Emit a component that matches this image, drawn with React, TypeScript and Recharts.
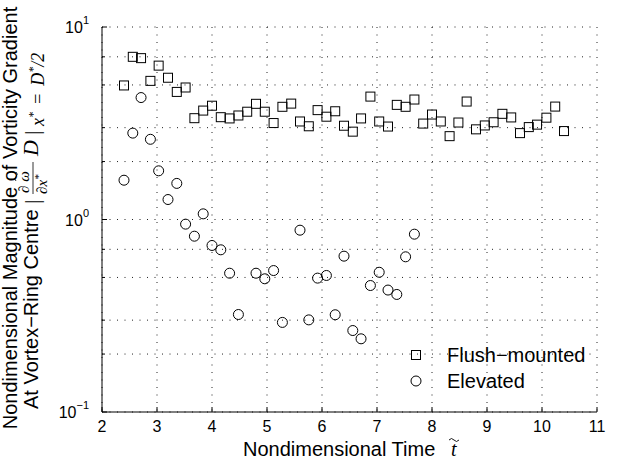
import React from "react";
import {
  ScatterChart, Scatter, XAxis, YAxis, CartesianGrid, Legend, Label,
} from "recharts";

const SANS = "Liberation Sans, Arial, Helvetica, sans-serif";
const SERIF = "Liberation Serif, DejaVu Serif, serif";

// nondimensional time (x) and gradient magnitude (y)
const flushT = [
  2.40, 2.56, 2.71, 2.88, 3.03, 3.20, 3.36, 3.52, 3.68, 3.84, 4.00, 4.16, 4.32,
  4.48, 4.64, 4.80, 4.96, 5.12, 5.28, 5.44, 5.60, 5.76, 5.92, 6.08, 6.24, 6.40,
  6.56, 6.71, 6.88, 7.04, 7.20, 7.36, 7.52, 7.68, 7.84, 8.00, 8.16, 8.32, 8.48,
  8.63, 8.80, 8.96, 9.12, 9.28, 9.44, 9.60, 9.76, 9.91, 10.08, 10.24, 10.40,
];
const flushG = [
  4.97, 7.0, 6.89, 5.25, 6.3, 5.45, 4.6, 4.85, 3.36, 3.68, 3.9, 3.40, 3.35,
  3.47, 3.63, 3.99, 3.63, 3.17, 3.85, 4.0, 3.23, 3.05, 3.70, 3.42, 3.65, 3.07,
  2.86, 3.35, 4.35, 3.23, 3.04, 3.94, 3.85, 4.2, 3.15, 3.51, 3.23, 2.71, 3.19,
  4.1, 2.94, 3.08, 3.20, 3.54, 3.39, 2.81, 3.02, 3.11, 3.38, 3.86, 2.88,
];
const elevT = [
  2.40, 2.56, 2.71, 2.88, 3.03, 3.20, 3.36, 3.52, 3.68, 3.84, 4.00, 4.16, 4.32,
  4.48, 4.80, 4.96, 5.12, 5.28, 5.60, 5.76, 5.92, 6.08, 6.24, 6.40, 6.56, 6.71,
  6.88, 7.04, 7.20, 7.36, 7.52, 7.68,
];
const elevG = [
  1.60, 2.81, 4.3, 2.61, 1.79, 1.27, 1.54, 0.946, 0.819, 1.07, 0.733, 0.696,
  0.526, 0.321, 0.526, 0.492, 0.543, 0.292, 0.88, 0.301, 0.496, 0.512, 0.320,
  0.645, 0.265, 0.240, 0.454, 0.532, 0.430, 0.408, 0.640, 0.839,
];

const xTicks = [2, 3, 4, 5, 6, 7, 8, 9, 10, 11];
const yTicks = [
  0.1, 0.2, 0.3, 0.4, 0.5, 0.6, 0.7, 0.8, 0.9,
  1, 2, 3, 4, 5, 6, 7, 8, 9, 10,
];
const decades = [0.1, 1, 10];
const seriesNames = ["Flush\u2212mounted", "Elevated"];

const flushData = flushT.map((t, i) => ({ t, g: flushG[i] }));
const elevData = elevT.map((t, i) => ({ t, g: elevG[i] }));

const txt = (size: number, family = SANS, italic = false) => ({
  fontSize: size, fontFamily: family, fontStyle: italic ? "italic" : "normal", fill: "#000",
});

const SquareDot = (props: any) => {
  const { cx, cy } = props;
  if (cx == null || cy == null) return null;
  return <rect x={cx - 4.5} y={cy - 4.5} width={9} height={9} fill="none" stroke="#000" strokeWidth={1} />;
};

const CircleDot = (props: any) => {
  const { cx, cy } = props;
  if (cx == null || cy == null) return null;
  return <circle cx={cx} cy={cy} r={5} fill="none" stroke="#000" strokeWidth={1} />;
};

const BottomTick = (props: any) => {
  const { x, y, payload } = props;
  return (
    <g>
      <line x1={x} y1={y} x2={x} y2={y - 5} stroke="#000" />
      <text x={x} y={y + 20} textAnchor="middle" style={txt(16)}>
        {payload.value}
      </text>
    </g>
  );
};

const TopTick = (props: any) => {
  const { x, y } = props;
  return <line x1={x} y1={y} x2={x} y2={y + 5} stroke="#000" />;
};

const LeftTick = (props: any) => {
  const { x, y, payload } = props;
  const v = payload.value;
  const major = decades.includes(v);
  const exp = Math.round(Math.log10(v));
  return (
    <g>
      <line x1={x} y1={y} x2={x + (major ? 5 : 3)} y2={y} stroke="#000" />
      {major && (
        <text x={x - 13} y={y + 6} textAnchor="end" style={txt(16)}>
          10
          <tspan dy={-9} style={{ fontSize: 11 }}>{exp < 0 ? "\u2212" + -exp : exp}</tspan>
        </text>
      )}
    </g>
  );
};

const RightTick = (props: any) => {
  const { x, y, payload } = props;
  const major = decades.includes(payload.value);
  return <line x1={x} y1={y} x2={x - (major ? 5 : 3)} y2={y} stroke="#000" />;
};

const XTitle = () => (
  <g>
    <text x={243} y={456} style={txt(20)}>Nondimensional Time</text>
    <text x={451} y={456} style={txt(20, SERIF, true)}>t</text>
    <path d="M449,440 q2.5,-3 5,0 t5,0" fill="none" stroke="#000" strokeWidth={0.9} />
  </g>
);

const YTitle = () => (
  <g>
    <g transform="translate(17,218) rotate(-90)">
      <text x={0} y={0} textAnchor="middle" style={txt(20)}>
        Nondimensional Magnitude of Vorticity Gradient
      </text>
    </g>
    <g transform="translate(38,409) rotate(-90)">
      <text x={0} y={0} style={txt(20)}>At Vortex{"\u2212"}Ring Centre</text>
      <text x={205} y={1} style={txt(22, SERIF)}>|</text>
      <text x={216} y={-9} style={txt(15, SERIF, true)}>{"\u2202 \u03C9"}</text>
      <path d="M228,-22 q2,-2.5 4.5,0 t4.5,0" fill="none" stroke="#000" strokeWidth={0.8} />
      <line x1={215} y1={-5} x2={247} y2={-5} stroke="#000" strokeWidth={0.8} />
      <text x={215} y={9} style={txt(15, SERIF, true)}>
        {"\u2202x"}
        <tspan dy={-5} style={{ fontSize: 11 }}>*</tspan>
      </text>
      <text x={253} y={0} style={txt(22, SERIF, true)}>D</text>
      <text x={274} y={1} style={txt(22, SERIF)}>|</text>
      <text x={283} y={6} style={txt(18, SERIF, true)}>
        x<tspan dy={-7} style={{ fontSize: 12 }}>*</tspan>
        <tspan dy={7} dx={7}>=</tspan>
        <tspan dx={7}>D</tspan>
        <tspan dy={-7} style={{ fontSize: 12 }}>*</tspan>
        <tspan dy={7}>/2</tspan>
      </text>
    </g>
  </g>
);

const LegendBox = () => (
  <div style={{ fontFamily: SANS, fontSize: 20, color: "#000" }}>
    {seriesNames.map((name, i) => (
      <div key={name} style={{ display: "flex", alignItems: "center", height: 26 }}>
        <svg width={12} height={12} style={{ display: "block" }}>
          {i === 0
            ? <rect x={1.5} y={1.5} width={9} height={9} fill="none" stroke="#000" />
            : <circle cx={6} cy={6} r={5} fill="none" stroke="#000" />}
        </svg>
        <span style={{ marginLeft: 25, lineHeight: "26px" }}>{name}</span>
      </div>
    ))}
  </div>
);

export default function App() {
  return (
    <div style={{ position: "absolute", left: 0, top: 0, width: 619, height: 462, background: "#fff" }}>
      <ScatterChart width={619} height={462} margin={{ top: 27, right: 22, bottom: 0, left: 0 }}>
        <CartesianGrid
          xAxisId="b" yAxisId="l"
          stroke="#222" strokeDasharray="1 6.5" strokeWidth={1}
        />
        <XAxis
          xAxisId="b" dataKey="t" type="number" domain={[2, 11]} ticks={xTicks}
          allowDataOverflow height={50} tickSize={0} tickMargin={0}
          tickLine={false} axisLine={{ stroke: "#000" }} tick={<BottomTick />}
        >
          <Label content={<XTitle />} />
        </XAxis>
        <XAxis
          xAxisId="t" orientation="top" type="number" domain={[2, 11]} ticks={xTicks}
          allowDataOverflow height={0} tickSize={0} tickMargin={0}
          tickLine={false} axisLine={{ stroke: "#000" }} tick={<TopTick />}
        />
        <YAxis
          yAxisId="l" dataKey="g" type="number" scale="log" domain={[0.1, 10]} ticks={yTicks}
          allowDataOverflow width={102} tickSize={0} tickMargin={0}
          tickLine={false} axisLine={{ stroke: "#000" }} tick={<LeftTick />}
        >
          <Label content={<YTitle />} />
        </YAxis>
        <YAxis
          yAxisId="r" orientation="right" type="number" scale="log" domain={[0.1, 10]} ticks={yTicks}
          allowDataOverflow width={0} tickSize={0} tickMargin={0}
          tickLine={false} axisLine={{ stroke: "#000" }} tick={<RightTick />}
        />
        <Legend
          layout="vertical" align="center" verticalAlign="middle"
          content={<LegendBox />}
          wrapperStyle={{ position: "absolute", left: 410, top: 342, width: "auto" }}
        />
        <Scatter
          name={seriesNames[0]} data={flushData} xAxisId="b" yAxisId="l"
          shape={<SquareDot />} isAnimationActive={false}
        />
        <Scatter
          name={seriesNames[1]} data={elevData} xAxisId="b" yAxisId="l"
          shape={<CircleDot />} isAnimationActive={false}
        />
      </ScatterChart>
    </div>
  );
}
